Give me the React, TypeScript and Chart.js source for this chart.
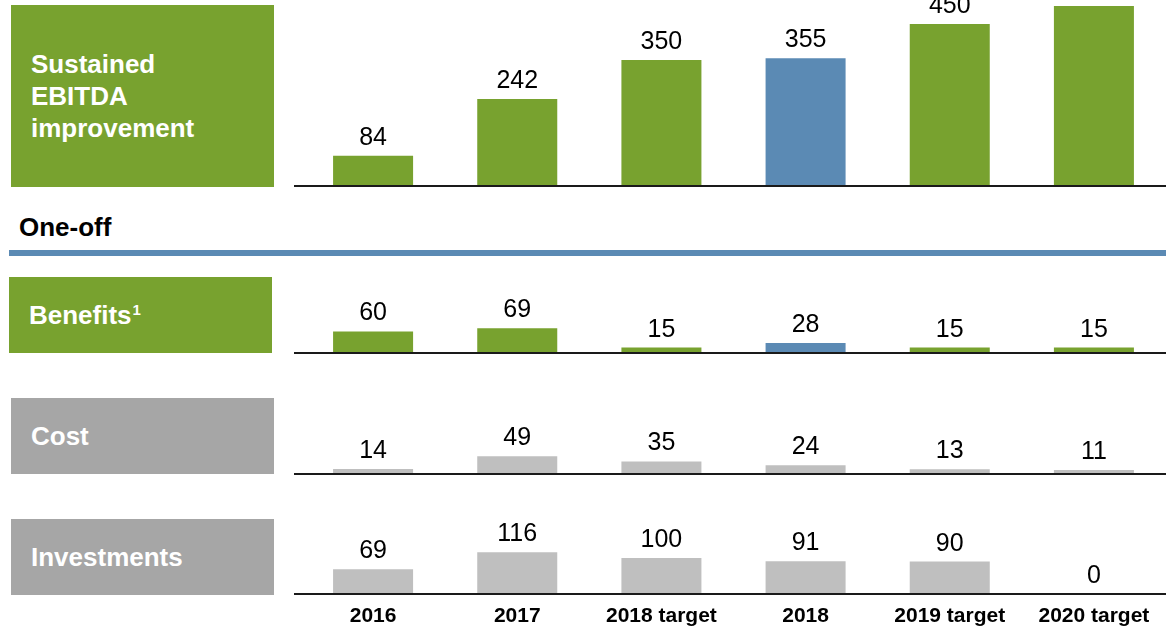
import React, { useEffect, useRef } from "react";
import { Chart, registerables } from "chart.js";

Chart.register(...registerables);

// ---- Data ----
const categories = ["2016", "2017", "2018 target", "2018", "2019 target", "2020 target"];
const sustainedEbitda = [84, 242, 350, 355, 450, 500];
const benefits = [60, 69, 15, 28, 15, 15];
const cost = [14, 49, 35, 24, 13, 11];
const investments = [69, 116, 100, 91, 90, 0];
const highlightCategory = "2018";

// ---- Styles ----
const GREEN = "#78A22F";
const BLUE = "#5B8AB4";
const GRAY_BOX = "#A6A6A6";
const GRAY_BAR = "#BFBFBF";
const FONT = "'Liberation Sans', Arial, sans-serif";
const PX_PER_UNIT = 0.36;
const W = 1173;

const greenColors = categories.map((c) => (c === highlightCategory ? BLUE : GREEN));
const grayColors = categories.map(() => GRAY_BAR);

type PanelProps = {
  values: number[];
  colors: string[];
  top: number;
  height: number;
  padBottom: number;
  showCategories?: boolean;
};

function Panel({ values, colors, top, height, padBottom, showCategories }: PanelProps) {
  const ref = useRef<HTMLCanvasElement | null>(null);
  useEffect(() => {
    if (!ref.current) return;
    const areaH = height - padBottom;
    const overlay = {
      id: "overlay",
      afterDatasetsDraw(chart: any) {
        const { ctx, chartArea } = chart;
        ctx.save();
        // baseline
        ctx.strokeStyle = "#1a1a1a";
        ctx.lineWidth = 2;
        ctx.beginPath();
        ctx.moveTo(chartArea.left - 7, chartArea.bottom);
        ctx.lineTo(chartArea.right, chartArea.bottom);
        ctx.stroke();
        // value labels
        const meta = chart.getDatasetMeta(0);
        ctx.fillStyle = "#000";
        ctx.font = `25px ${FONT}`;
        ctx.textAlign = "center";
        ctx.textBaseline = "alphabetic";
        meta.data.forEach((bar: any, i: number) => {
          ctx.fillText(String(values[i]), bar.x, bar.y - 11);
        });
        if (showCategories) {
          const xs = chart.scales.x;
          ctx.font = `bold 21px ${FONT}`;
          categories.forEach((c, i) => {
            ctx.fillText(c, xs.getPixelForValue(i), chartArea.bottom + 28);
          });
        }
        ctx.restore();
      },
    };
    const chart = new Chart(ref.current, {
      type: "bar",
      data: {
        labels: categories,
        datasets: [
          {
            data: values,
            backgroundColor: colors,
            borderWidth: 0,
            categoryPercentage: 1,
            barPercentage: 0.555,
          },
        ],
      },
      options: {
        animation: false,
        responsive: false,
        maintainAspectRatio: false,
        devicePixelRatio: 1,
        layout: { padding: { left: 301, right: 7, top: 0, bottom: padBottom } },
        plugins: { legend: { display: false }, tooltip: { enabled: false } },
        scales: {
          x: { type: "category", display: false, offset: true },
          y: { display: false, min: 0, max: areaH / PX_PER_UNIT },
        },
      },
      plugins: [overlay],
    });
    return () => chart.destroy();
  }, []);
  return (
    <canvas
      ref={ref}
      width={W}
      height={height}
      style={{ position: "absolute", left: 0, top, width: W, height }}
    />
  );
}

const boxText: React.CSSProperties = {
  color: "#fff",
  fontWeight: "bold",
  fontSize: 26,
  lineHeight: "32px",
  fontFamily: FONT,
};

function Box({ left, top, height, color, children }: any) {
  return (
    <div
      style={{
        position: "absolute",
        left,
        top,
        width: 263,
        height,
        background: color,
        display: "flex",
        alignItems: "center",
        paddingLeft: 20,
        boxSizing: "border-box",
        ...boxText,
      }}
    >
      <div>{children}</div>
    </div>
  );
}

export default function App() {
  return (
    <div
      style={{
        position: "absolute",
        left: 0,
        top: 0,
        width: W,
        height: 627,
        overflow: "hidden",
        background: "#fff",
        fontFamily: FONT,
      }}
    >
      <Panel values={sustainedEbitda} colors={greenColors} top={-60} height={260} padBottom={14} />
      <Panel values={benefits} colors={greenColors} top={260} height={100} padBottom={7} />
      <Panel values={cost} colors={grayColors} top={380} height={100} padBottom={6} />
      <Panel values={investments} colors={grayColors} top={500} height={127} padBottom={33} showCategories />

      <Box left={11} top={5} height={182} color={GREEN}>
        Sustained
        <br />
        EBITDA
        <br />
        improvement
      </Box>
      <div
        style={{
          position: "absolute",
          left: 19,
          top: 211,
          fontWeight: "bold",
          fontSize: 26,
          lineHeight: "32px",
          color: "#000",
        }}
      >
        One-off
      </div>
      <div style={{ position: "absolute", left: 9, top: 250, width: 1157, height: 6, background: BLUE }} />
      <Box left={9} top={277} height={76} color={GREEN}>
        Benefits
        <span
          style={{
            fontSize: 15,
            lineHeight: "15px",
            verticalAlign: "baseline",
            position: "relative",
            top: -9,
            marginLeft: 1,
          }}
        >
          1
        </span>
      </Box>
      <Box left={11} top={398} height={76} color={GRAY_BOX}>
        Cost
      </Box>
      <Box left={11} top={519} height={76} color={GRAY_BOX}>
        Investments
      </Box>
    </div>
  );
}
